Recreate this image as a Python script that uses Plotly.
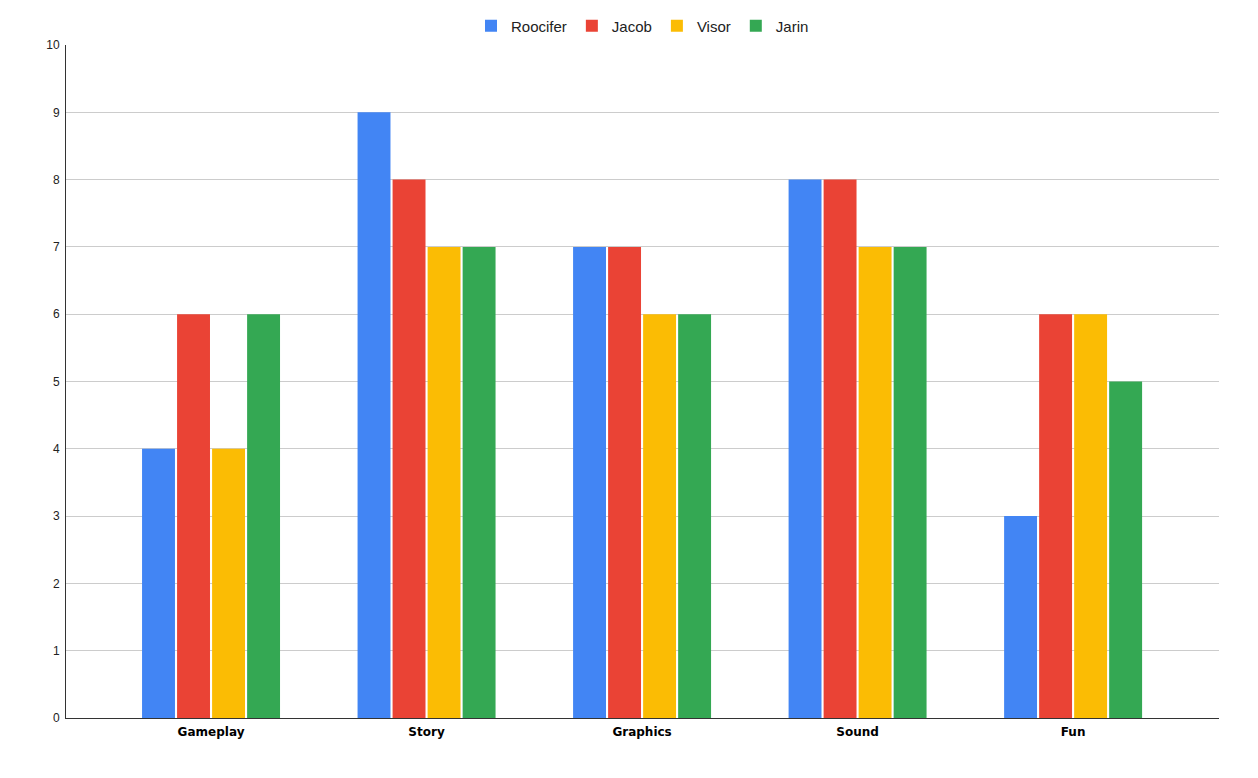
import plotly.graph_objects as go

categories = ["Gameplay", "Story", "Graphics", "Sound", "Fun"]
series_names = ["Roocifer", "Jacob", "Visor", "Jarin"]
roocifer = [4, 9, 7, 8, 3]
jacob = [6, 8, 7, 8, 6]
visor = [4, 7, 6, 7, 6]
jarin = [6, 7, 6, 7, 5]
colors = ["#4285F4", "#EA4335", "#FBBC04", "#34A853"]
y_ticks = list(range(0, 11))

fig = go.Figure()
for name, vals, c in zip(series_names, [roocifer, jacob, visor, jarin], colors):
    fig.add_trace(go.Bar(x=categories, y=vals, name=name, marker=dict(color=c, line=dict(width=0))))

fig.update_layout(
    width=1250, height=770,
    barmode="group", bargap=0.35, bargroupgap=0.06,
    plot_bgcolor="white", paper_bgcolor="white",
    margin=dict(l=58, r=39, t=37, b=60, autoexpand=False),
    font=dict(family="Liberation Sans, Arial, sans-serif", color="#222222"),
    legend=dict(orientation="h", x=0.5, xanchor="center", yref="container", y=1 - 18 / 770,
                yanchor="middle", font=dict(size=15, color="#222222"), itemsizing="constant"),
    xaxis=dict(range=[-0.673, 4.677], showline=True, linecolor="#333333", linewidth=1,
               tickfont=dict(size=12, color="#000000", family="DejaVu Sans, sans-serif", weight="bold"),
               ticks="", showgrid=False, ticklabelstandoff=3),
    yaxis=dict(range=[0, 10], tickvals=y_ticks, showgrid=True, gridcolor="#CCCCCC",
               showline=True, linecolor="#333333", linewidth=1, zeroline=False,
               tickfont=dict(size=12, color="#222222"), ticks="", ticklabelstandoff=3),
)
fig.write_html("out.html")
